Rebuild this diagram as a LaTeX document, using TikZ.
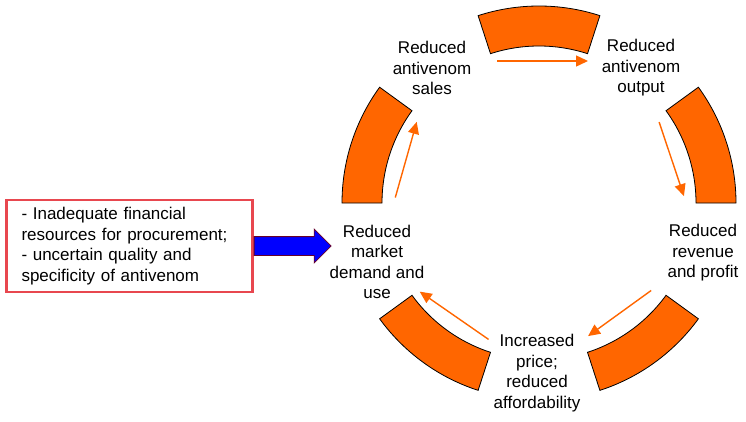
\documentclass[tikz,border=0pt]{standalone}
\usepackage{fontspec}
\setmainfont{Liberation Sans}
\usetikzlibrary{arrows.meta,shapes.arrows,positioning}

\definecolor{segorange}{HTML}{FF6600}
\definecolor{boxred}{HTML}{E8474F}
\definecolor{darkrim}{HTML}{66002A}

\begin{document}
\begin{tikzpicture}[x=1pt, y=1pt,
  seg/.style={fill=segorange, draw=black, line width=0.8pt},
  lbl/.style={align=center, inner sep=0pt, font=\fontsize{17}{20.5}\selectfont},
  flow/.style={-{Triangle[length=12pt,width=11pt]}, draw=segorange, fill=segorange, line width=1.4pt},
  causebox/.style={rectangle, draw=boxred, line width=2.4pt, minimum width=246pt, minimum height=92pt,
    text width=216pt, align=left, inner sep=0pt, font=\fontsize{17}{20.5}\selectfont},
  push/.style={single arrow, draw=darkrim, fill=blue, line width=0.8pt, inner sep=0pt, inner ysep=9pt,
    minimum height=77pt, single arrow head extend=7.5pt}
]
\useasboundingbox (0,0) rectangle (746,-421);
\coordinate (hub) at (539,-203);
\foreach \a in {0,72,...,288}
  \draw[seg] ([shift={(\a:197pt)}]hub) arc[start angle=\a, delta angle=36, radius=197pt]
    -- ([shift={(\a+36:157pt)}]hub) arc[start angle=\a+36, delta angle=-36, radius=157pt] -- cycle;

\node[lbl] (sales) at (432,-68) {Reduced\\antivenom\\sales};
\node[lbl] (output) at (641,-68) {Reduced\\antivenom\\output};
\node[lbl] (revenue) at (703,-253) {Reduced\\revenue\\and profit};
\node[lbl] (price) at (537,-373) {Increased\\price;\\reduced\\affordability};
\node[lbl] (demand) at (377,-262) {Reduced\\market\\demand and\\use};

\draw[flow, shorten <=65pt, shorten >=53pt] ([yshift=7pt]sales.center) -- ([yshift=7pt]output.center);
\draw[flow, shorten <=57pt, shorten >=60pt] (output.center) -- (revenue.center);
\draw[flow, shorten <=64pt, shorten >=63pt] (revenue.center) -- (price.center);
\draw[flow, shorten <=59pt, shorten >=52pt] (price.center) -- (demand.center);
\draw[flow, shorten <=67pt, shorten >=56pt] (demand.center) -- (sales.center);

\node[causebox] (cause) at (129.5,-246) {- Inadequate financial\\resources for procurement;\\- uncertain quality and\\specificity of antivenom};
\node[push, anchor=tail] (push) at (cause.east) {};
\end{tikzpicture}
\end{document}
